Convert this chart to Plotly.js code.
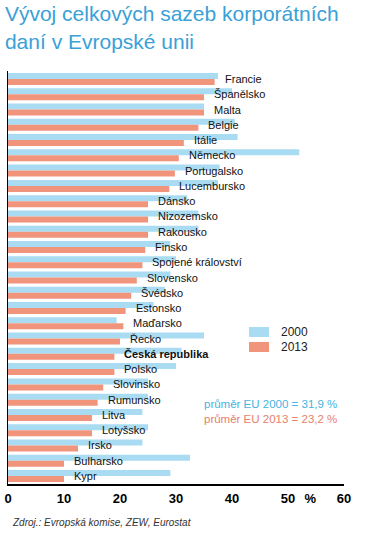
<!DOCTYPE html>
<html>
<head>
<meta charset="utf-8">
<script src="https://cdn.plot.ly/plotly-3.0.1.min.js"></script>
<style>html,body{margin:0;padding:0;background:#fff;}#chart{width:380px;height:533px;}</style>
</head>
<body>
<div id="chart"></div>
<script>
const countries = ["Francie","Španělsko","Malta","Belgie","Itálie","Německo","Portugalsko","Lucembursko","Dánsko","Nizozemsko","Rakousko","Finsko","Spojené království","Slovensko","Švédsko","Estonsko","Maďarsko","Řecko","Česká republika","Polsko","Slovinsko","Rumunsko","Litva","Lotyšsko","Irsko","Bulharsko","Kypr"];
const values2000 = [37.5, 40, 35, 40.5, 41, 52, 37.8, 37.5, 32, 34, 34, 29, 30, 29, 28, 26, 19.4, 35, 31, 30, 25, 25, 24, 25, 24, 32.5, 29];
const values2013 = [36.9, 35, 35, 34, 31.4, 30.5, 29.8, 28.8, 25, 25, 25, 24.5, 24, 23, 22, 21, 20.6, 20, 19, 19, 17, 16, 15, 15, 12.5, 10, 10];
const seriesNames = ["2000", "2013"];
const tickVals = [0, 10, 20, 30, 40, 50, 54, 60];
const tickText = ["0", "10", "20", "30", "40", "50", "%", "60"];
const averageTexts = ["průměr EU 2000 = 31,9 %", "průměr EU 2013 = 23,2 %"];
const highlight = "Česká republika";

const blue = "#a9dcf3";
const orange = "#f0957c";
const font = "Liberation Sans, Arial, sans-serif";

const traces = [
  {type: "bar", orientation: "h", name: seriesNames[0], y: countries, x: values2000,
   marker: {color: blue}, hoverinfo: "x+y"},
  {type: "bar", orientation: "h", name: seriesNames[1], y: countries, x: values2013,
   marker: {color: orange}, hoverinfo: "x+y"}
];

const annotations = countries.map((c, i) => ({
  x: values2013[i], y: c, xref: "x", yref: "y", xanchor: "left", yanchor: "middle",
  xshift: 8, showarrow: false, text: c,
  font: {family: font, size: 11, color: "#111", weight: c === highlight ? "bold" : "normal"}
}));

function py(p) { return (484 - p) / 413; }
function px(p) { return (p - 8) / 336; }

annotations.push(
  {xref: "paper", yref: "paper", x: px(279), y: py(332), xanchor: "left", yanchor: "middle", showarrow: false,
   text: seriesNames[0], font: {family: font, size: 12, color: "#222"}},
  {xref: "paper", yref: "paper", x: px(279), y: py(347), xanchor: "left", yanchor: "middle", showarrow: false,
   text: seriesNames[1], font: {family: font, size: 12, color: "#222"}},
  {xref: "paper", yref: "paper", x: px(202), y: py(404), xanchor: "left", yanchor: "middle", showarrow: false,
   text: averageTexts[0], font: {family: font, size: 11.5, color: "#45b4e0"}},
  {xref: "paper", yref: "paper", x: px(202), y: py(419), xanchor: "left", yanchor: "middle", showarrow: false,
   text: averageTexts[1], font: {family: font, size: 11.5, color: "#e8806a"}},
  {xref: "paper", yref: "paper", x: px(10), y: py(522), xanchor: "left", yanchor: "middle", showarrow: false,
   text: "Zdroj.: Evropská komise, ZEW, Eurostat", font: {family: font, size: 10, color: "#333", style: "italic"}}
);

const shapes = [
  {type: "rect", xref: "paper", yref: "paper", x0: px(249), x1: px(269), y0: py(337), y1: py(327),
   fillcolor: blue, line: {width: 0}},
  {type: "rect", xref: "paper", yref: "paper", x0: px(249), x1: px(269), y0: py(352), y1: py(342),
   fillcolor: orange, line: {width: 0}}
];

const layout = {
  width: 380, height: 533,
  margin: {l: 8, r: 36, t: 71, b: 49},
  paper_bgcolor: "#fff", plot_bgcolor: "#fff",
  showlegend: false,
  barmode: "group", bargap: 0.215, bargroupgap: 0,
  title: {text: "Vývoj celkových sazeb korporátních<br>daní v Evropské unii",
          x: 0.013, xanchor: "left", xref: "container", y: 0.96, yanchor: "top", yref: "container",
          font: {family: font, size: 21, color: "#3aa1d6"}},
  xaxis: {range: [0, 60], tickvals: tickVals, ticktext: tickText, showgrid: false, zeroline: false,
          showline: true, linecolor: "#000", linewidth: 1.5, ticks: "", ticklabelstandoff: 2,
          tickfont: {family: font, size: 13, color: "#000", weight: "bold"}, fixedrange: true},
  yaxis: {type: "category", autorange: "reversed", showticklabels: false, showgrid: false, zeroline: false,
          showline: true, linecolor: "#000", linewidth: 1.5, ticks: "", fixedrange: true},
  annotations: annotations,
  shapes: shapes
};

Plotly.newPlot("chart", traces, layout, {displayModeBar: false, staticPlot: true});
</script>
</body>
</html>
